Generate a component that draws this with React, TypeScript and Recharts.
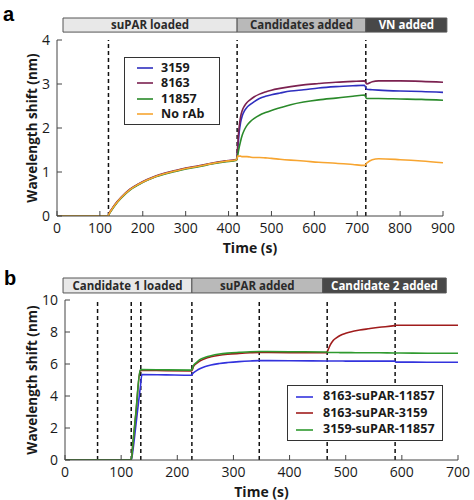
import { Legend, Line, LineChart, ReferenceArea, ReferenceLine, XAxis, YAxis } from "recharts"

// ---- panel a: suPAR loading, candidate binding, VN addition ----
const timeA = [0, 60, 119, 122, 128, 135, 150, 170, 190, 210, 230, 250, 270, 300, 330, 360, 390, 419, 421, 423, 425, 428, 432, 437, 443, 450, 460, 472, 486, 500, 520, 545, 575, 610, 650, 690, 717, 722, 735, 750, 800, 850, 900]
const shift3159 = [0, 0, 0, 0.06, 0.15, 0.25, 0.42, 0.6, 0.72, 0.82, 0.9, 0.96, 1.01, 1.08, 1.13, 1.19, 1.24, 1.28, 1.45, 1.7, 1.92, 2.12, 2.28, 2.39, 2.47, 2.53, 2.6, 2.67, 2.72, 2.755, 2.795, 2.84, 2.87, 2.91, 2.94, 2.96, 2.97, 2.88, 2.87, 2.86, 2.84, 2.83, 2.81]
const shift8163 = [0, 0, 0, 0.07, 0.16, 0.26, 0.43, 0.61, 0.73, 0.83, 0.91, 0.97, 1.02, 1.09, 1.14, 1.2, 1.25, 1.29, 1.55, 1.85, 2.05, 2.25, 2.4, 2.5, 2.58, 2.64, 2.71, 2.77, 2.82, 2.86, 2.9, 2.94, 2.98, 3.01, 3.04, 3.06, 3.07, 3.0, 3.05, 3.07, 3.07, 3.06, 3.04]
const shift11857 = [0, 0, 0, 0.05, 0.14, 0.24, 0.41, 0.59, 0.71, 0.81, 0.89, 0.95, 1.0, 1.07, 1.12, 1.18, 1.23, 1.27, 1.36, 1.47, 1.57, 1.7, 1.84, 1.96, 2.06, 2.14, 2.22, 2.29, 2.35, 2.4, 2.46, 2.53, 2.59, 2.64, 2.68, 2.72, 2.75, 2.67, 2.67, 2.67, 2.66, 2.65, 2.63]
const shiftNoRab = [0, 0, 0, 0.06, 0.15, 0.25, 0.42, 0.6, 0.72, 0.82, 0.9, 0.96, 1.01, 1.08, 1.13, 1.19, 1.24, 1.28, 1.36, 1.36, 1.36, 1.36, 1.35, 1.35, 1.35, 1.34, 1.33, 1.33, 1.32, 1.31, 1.29, 1.27, 1.25, 1.22, 1.2, 1.17, 1.15, 1.2, 1.28, 1.3, 1.28, 1.25, 1.21]
const xTicksA = [0, 100, 200, 300, 400, 500, 600, 700, 800, 900]
const yTicksA = [0, 1, 2, 3, 4]
const eventsA = [120, 420, 720]
const phaseLabelsA = ["suPAR loaded", "Candidates added", "VN added"]
const phaseEdgesA = [14, 420, 720, 909]

// ---- panel b: sandwich assay ----
const timeB = [0, 58, 118, 121, 126, 134, 137, 180, 225, 226.5, 229, 235, 240, 250, 260, 275, 290, 310, 330, 346, 400, 466, 467.5, 470, 473, 478, 484, 490, 500, 510, 525, 540, 560, 587, 589, 620, 660, 700]
const shift8163_11857 = [0, 0, 0, 0.6, 2.1, 4.5, 5.34, 5.32, 5.3, 5.35, 5.45, 5.6, 5.7, 5.84, 5.94, 6.03, 6.09, 6.15, 6.19, 6.21, 6.2, 6.19, 6.19, 6.19, 6.19, 6.19, 6.19, 6.19, 6.18, 6.18, 6.18, 6.18, 6.18, 6.18, 6.12, 6.12, 6.11, 6.11]
const shift8163_3159 = [0, 0, 0, 1.05, 2.8, 5.58, 5.6, 5.58, 5.57, 5.62, 5.85, 6.05, 6.18, 6.35, 6.45, 6.55, 6.61, 6.66, 6.7, 6.72, 6.71, 6.7, 6.8, 7.0, 7.22, 7.48, 7.65, 7.78, 7.92, 8.02, 8.12, 8.2, 8.3, 8.4, 8.42, 8.42, 8.42, 8.42]
const shift3159_11857 = [0, 0, 0, 1.05, 2.85, 5.63, 5.65, 5.63, 5.62, 5.68, 5.92, 6.12, 6.27, 6.42, 6.52, 6.62, 6.68, 6.73, 6.77, 6.78, 6.77, 6.75, 6.73, 6.72, 6.72, 6.72, 6.72, 6.71, 6.71, 6.71, 6.7, 6.7, 6.7, 6.69, 6.69, 6.68, 6.67, 6.67]
const xTicksB = [0, 100, 200, 300, 400, 500, 600, 700]
const yTicksB = [0, 1, 2, 3, 4, 5, 6, 7, 8, 9, 10]
const eventsB = [58, 118, 135, 226, 346, 467, 588]
const phaseLabelsB = ["Candidate 1 loaded", "suPAR added", "Candidate 2 added"]
const phaseEdgesB = [-3.5, 226, 459, 679]

const INK = "#1a1a1a"
const AXIS = "#444"
const PHASE_FILLS = ["#e8e8e8", "#b9b9b9", "#484848"]
const PHASE_TEXT = ["#2a2a2a", "#2a2a2a", "#ffffff"]

const dataA = timeA.map((t, i) => ({
  t,
  s3159: shift3159[i],
  s8163: shift8163[i],
  s11857: shift11857[i],
  none: shiftNoRab[i],
}))

const dataB = timeB.map((t, i) => ({
  t,
  a: shift8163_11857[i],
  b: shift8163_3159[i],
  c: shift3159_11857[i],
}))

const linesA = [
  { key: "s3159", name: "3159", color: "#2f2fbf" },
  { key: "s8163", name: "8163", color: "#7b2150" },
  { key: "s11857", name: "11857", color: "#2a8a2a" },
  { key: "none", name: "No rAb", color: "#f7a531" },
]

const linesB = [
  { key: "a", name: "8163-suPAR-11857", color: "#3333dd" },
  { key: "b", name: "8163-suPAR-3159", color: "#a01c1c" },
  { key: "c", name: "3159-suPAR-11857", color: "#2f9a2f" },
]

function YTitle(props: any) {
  const { viewBox } = props
  const cx = 32
  const cy = viewBox.y + viewBox.height / 2
  return (
    <text
      x={cx}
      y={cy}
      transform={`rotate(-90 ${cx} ${cy})`}
      textAnchor="middle"
      dominantBaseline="central"
      fontSize={13.5}
      fontWeight={700}
      fill={INK}
    >
      Wavelength shift (nm)
    </text>
  )
}

// boxed legend, entries kept in the series order
function BoxLegend({ items, width, height, padLeft, swatch, gap, fontSize, rowHeight }: any) {
  return (
    <div
      style={{
        width,
        height,
        boxSizing: "border-box",
        border: "1.5px solid #333",
        background: "#fff",
        paddingLeft: padLeft,
        display: "flex",
        flexDirection: "column",
        justifyContent: "center",
      }}
    >
      {items.map((p: any) => (
        <div key={p.name} style={{ display: "flex", alignItems: "center", height: rowHeight }}>
          <svg width={swatch} height={4} style={{ marginRight: gap, flexShrink: 0, display: "block" }}>
            <line x1={0} y1={2} x2={swatch} y2={2} stroke={p.color} strokeWidth={1.6} />
          </svg>
          <span style={{ fontSize, fontWeight: 700, color: INK, lineHeight: 1, whiteSpace: "nowrap" }}>{p.name}</span>
        </div>
      ))}
    </div>
  )
}

function Panel(props: any) {
  const {
    data, lines, height, margin, yAxisWidth, xAxisHeight, xDomain, xTicks, yDomain, yTicks,
    events, phaseEdges, phaseLabels, bandY, titleOffset, legendPos, legendBox,
  } = props
  return (
    <LineChart width={474} height={height} data={data} margin={margin}>
      <XAxis
        type="number"
        dataKey="t"
        domain={xDomain}
        ticks={xTicks}
        allowDataOverflow
        height={xAxisHeight}
        tickSize={-5}
        tickMargin={12}
        axisLine={{ stroke: AXIS }}
        tickLine={{ stroke: AXIS }}
        tick={{ fontSize: 14, fill: INK }}
        label={{ value: "Time (s)", position: "insideBottom", offset: titleOffset, fontSize: 14, fontWeight: 700, fill: INK }}
      />
      <YAxis
        type="number"
        domain={yDomain}
        ticks={yTicks}
        allowDataOverflow
        width={yAxisWidth}
        tickSize={-5}
        tickMargin={12}
        axisLine={{ stroke: AXIS }}
        tickLine={{ stroke: AXIS }}
        tick={{ fontSize: 14, fill: INK }}
        label={(p: any) => <YTitle {...p} />}
      />
      {phaseLabels.map((name: string, i: number) => (
        <ReferenceArea
          key={name}
          x1={phaseEdges[i]}
          x2={phaseEdges[i + 1]}
          y1={bandY[0]}
          y2={bandY[1]}
          ifOverflow="visible"
          fill={PHASE_FILLS[i]}
          fillOpacity={1}
          stroke="#555"
          strokeWidth={1}
          label={{ value: name, position: "center", fill: PHASE_TEXT[i], fontSize: 11.5, fontWeight: 700 }}
        />
      ))}
      {events.map((t: number) => (
        <ReferenceLine key={t} x={t} stroke="#111" strokeDasharray="4 3" strokeWidth={1.5} />
      ))}
      {lines.map((l: any) => (
        <Line
          key={l.key}
          type="monotone"
          dataKey={l.key}
          name={l.name}
          stroke={l.color}
          strokeWidth={1.6}
          dot={false}
          isAnimationActive={false}
        />
      ))}
      <Legend
        layout="vertical"
        align="center"
        verticalAlign="middle"
        wrapperStyle={{ top: legendPos.top, left: legendPos.left, width: legendBox.width }}
        content={() => <BoxLegend items={lines} {...legendBox} />}
      />
    </LineChart>
  )
}

export default function App() {
  return (
    <div
      style={{
        position: "absolute",
        top: 0,
        left: 0,
        width: 474,
        height: 500,
        background: "#fff",
        fontFamily: "'Open Sans', sans-serif",
      }}
    >
      <div style={{ position: "absolute", left: 3, top: 4, font: "bold 20px Arial, 'Liberation Sans', sans-serif", lineHeight: "20px" }}>a</div>
      <div style={{ position: "absolute", left: 4, top: 268, font: "bold 20px Arial, 'Liberation Sans', sans-serif", lineHeight: "20px" }}>b</div>
      <div style={{ position: "absolute", top: 0, left: 0 }}>
        <Panel
          data={dataA}
          lines={linesA}
          height={260}
          margin={{ top: 40, right: 31, left: 0, bottom: 0 }}
          yAxisWidth={57}
          xAxisHeight={44}
          xDomain={[0, 900]}
          xTicks={xTicksA}
          yDomain={[0, 4]}
          yTicks={yTicksA}
          events={eventsA}
          phaseEdges={phaseEdgesA}
          phaseLabels={phaseLabelsA}
          bandY={[4.18, 4.5]}
          titleOffset={7}
          legendPos={{ top: 57, left: 124 }}
          legendBox={{ width: 96, height: 68, padLeft: 12, swatch: 16, gap: 8, fontSize: 12.5, rowHeight: 15.5 }}
        />
      </div>
      <div style={{ position: "absolute", top: 260, left: 0 }}>
        <Panel
          data={dataB}
          lines={linesB}
          height={240}
          margin={{ top: 40, right: 16, left: 0, bottom: 0 }}
          yAxisWidth={65}
          xAxisHeight={40}
          xDomain={[0, 700]}
          xTicks={xTicksB}
          yDomain={[0, 10]}
          yTicks={yTicksB}
          events={eventsB}
          phaseEdges={phaseEdgesB}
          phaseLabels={phaseLabelsB}
          bandY={[10.44, 11.375]}
          titleOffset={3}
          legendPos={{ top: 125, left: 287 }}
          legendBox={{ width: 156, height: 56, padLeft: 8, swatch: 17, gap: 10, fontSize: 12.5, rowHeight: 16.5 }}
        />
      </div>
    </div>
  )
}
